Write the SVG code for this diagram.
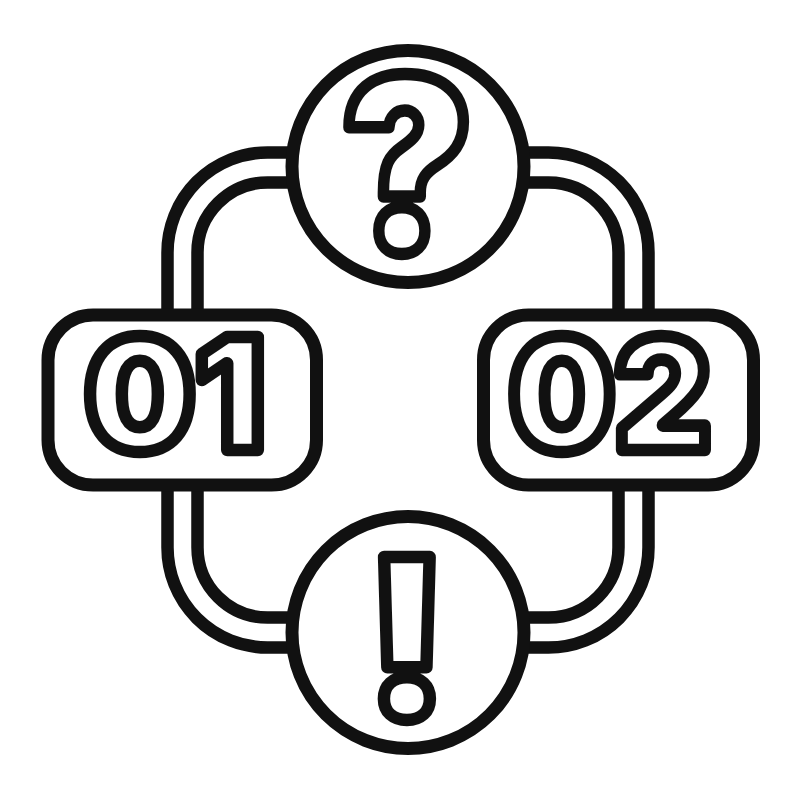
<svg xmlns="http://www.w3.org/2000/svg" width="800" height="800" viewBox="0 0 800 800">
<style>
.ln{fill:none;stroke:#111;stroke-width:12.5}
.nd{fill:#fff;stroke:#111;stroke-width:13}
.gl{fill:#fff;stroke:#111;stroke-width:12.5;stroke-linejoin:round;font-family:Inter,"DejaVu Sans",sans-serif;font-weight:900;text-anchor:middle}
</style>
<rect width="800" height="800" fill="#fff"/>
<g id="connectors">
<path class="ln" d="M290 152.5H267.5A100 100 0 0 0 167.5 252.5V320"/>
<path class="ln" d="M295 182.5H267.5A70 70 0 0 0 197.5 252.5V320"/>
<path class="ln" d="M525 152.5H548.5A100 100 0 0 1 648.5 252.5V320"/>
<path class="ln" d="M520 182.5H548.5A70 70 0 0 1 618.5 252.5V320"/>
<path class="ln" d="M167.5 480V547.5A100 100 0 0 0 267.5 647.5H300"/>
<path class="ln" d="M197.5 480V547.5A70 70 0 0 0 267.5 617.5H300"/>
<path class="ln" d="M648.5 480V547.5A100 100 0 0 1 548.5 647.5H520"/>
<path class="ln" d="M618.5 480V547.5A70 70 0 0 1 548.5 617.5H520"/>
</g>
<g id="node-question">
<circle class="nd" cx="408" cy="166.5" r="116"/>
<text class="gl" transform="translate(407 251) scale(0.92 1)" font-size="240">?</text>
</g>
<g id="node-01">
<rect class="nd" x="48" y="315" width="268.5" height="170" rx="45"/>
<text class="gl" x="175" y="450" font-size="155">01</text>
</g>
<g id="node-02">
<rect class="nd" x="483.5" y="315" width="270" height="170" rx="45"/>
<text class="gl" transform="translate(610 450) scale(0.96 1)" font-size="155">02</text>
</g>
<g id="node-exclaim">
<circle class="nd" cx="408" cy="632.5" r="116"/>
<text class="gl" x="407" y="717" font-size="220">!</text>
</g>
</svg>
